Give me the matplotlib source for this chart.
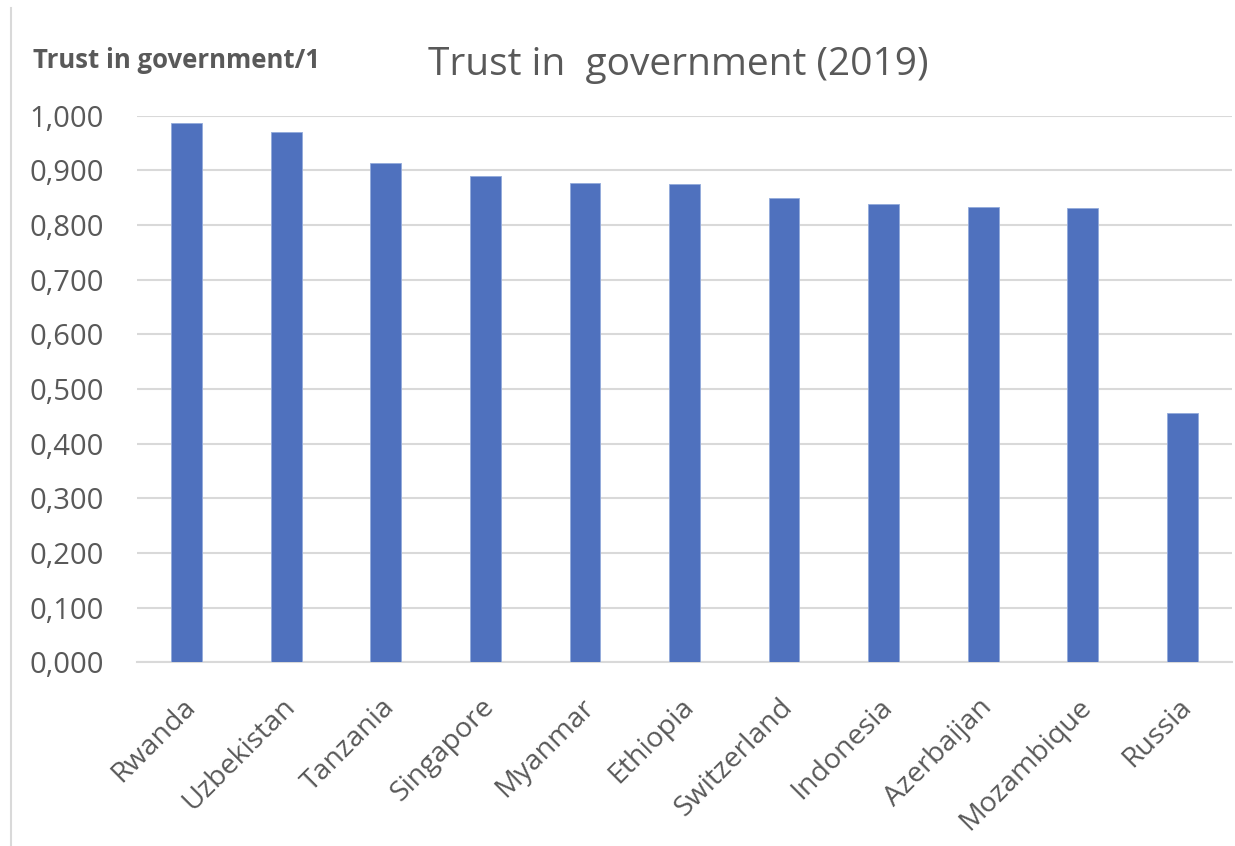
import matplotlib
matplotlib.use("Agg")
import matplotlib.pyplot as plt
from matplotlib.ticker import FuncFormatter, MultipleLocator
from matplotlib.lines import Line2D
from matplotlib.transforms import ScaledTranslation

countries = ["Rwanda", "Uzbekistan", "Tanzania", "Singapore", "Myanmar", "Ethiopia",
             "Switzerland", "Indonesia", "Azerbaijan", "Mozambique", "Russia"]
trust = [0.987, 0.969, 0.914, 0.890, 0.876, 0.874, 0.849, 0.838, 0.832, 0.830, 0.456]

plt.rcParams['font.family'] = ['Open Sans', 'DejaVu Sans']
gray = '#595959'

W, H = 1235, 846
fig = plt.figure(figsize=(W/100, H/100), dpi=100)
ax = fig.add_axes([137/W, 1 - 662.3/H, (1232-137)/W, (662.3-115.5)/H])

x = range(len(countries))
ax.bar(x, trust, width=0.31, color='#4F71BE', edgecolor='#92AADB', linewidth=0.6, zorder=3)
ax.set_xlim(-0.5, len(countries) - 0.5)
ax.set_ylim(0, 1.0)
ax.yaxis.set_major_locator(MultipleLocator(0.1))
ax.yaxis.set_major_formatter(FuncFormatter(lambda v, p: f"{v:.3f}".replace('.', ',')))
ax.grid(axis='y', color='#d9d9d9', linewidth=1.5, zorder=0)
ax.set_axisbelow(True)
for s in ['top', 'right', 'left']:
    ax.spines[s].set_visible(False)
ax.spines['bottom'].set_color('#d9d9d9')
ax.spines['bottom'].set_linewidth(1.5)
ax.tick_params(axis='y', length=0, pad=24, labelsize=21, labelcolor=gray)
ax.tick_params(axis='x', length=0, pad=22, labelsize=20.5, labelcolor=gray)
ax.set_xticks(list(x))
ax.set_xticklabels(countries, rotation=45, ha='right', rotation_mode='anchor')
offset = ScaledTranslation(-5/100, 0, fig.dpi_scale_trans)
for lab in ax.get_xticklabels():
    lab.set_transform(lab.get_transform() + offset)

fig.text(678/W, 1 - 65/H, "Trust in  government (2019)", ha='center', va='center',
         fontsize=28, color=gray)
fig.text(33/W, 1 - 60/H, "Trust in government/1", ha='left', va='center',
         fontsize=18.5, color=gray, fontweight='bold')
fig.add_artist(Line2D([11/W, 11/W], [0, 1 - 8/H], color='#d9d9d9', linewidth=1.5,
                      transform=fig.transFigure))

fig.savefig("out.png", dpi=100)
